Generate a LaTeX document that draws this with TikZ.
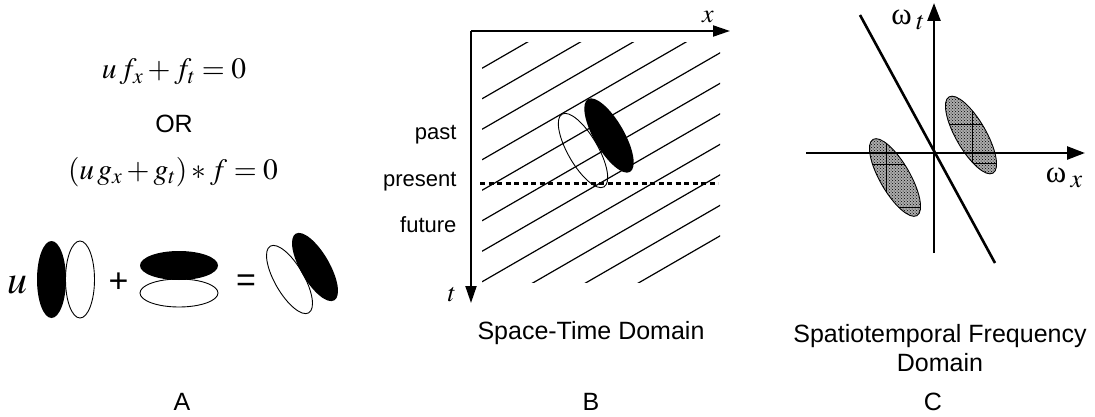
\documentclass[tikz,border=0pt]{standalone}
\usepackage{mathptmx}
\usepackage[no-math]{fontspec}
\setmainfont{Liberation Sans}
\newfontfamily\greekup{Liberation Serif}
\usetikzlibrary{arrows.meta,patterns}

\tikzset{
  axisB/.style={line width=2pt, -{Triangle[length=17pt,width=11pt]}},
  axisC/.style={line width=2.6pt, -{Triangle[length=18pt,width=13pt]}},
  hatch/.style={line width=1.2pt},
  blob/.style={line width=0.9pt},
  caption/.style={font=\fontsize{25}{29}\selectfont, align=center},
  timelabel/.style={font=\fontsize{22}{26}\selectfont, anchor=east},
  eqn/.style={font=\fontsize{29.5}{34}\selectfont},
  axlabel/.style={font=\fontsize{26}{30}\selectfont, inner sep=1pt},
  bigsym/.style={font=\fontsize{34}{38}\selectfont},
}

\begin{document}
\begin{tikzpicture}[x=1pt,y=1pt]
    \useasboundingbox (0,0) rectangle (1095,416);

    % Panel A: constraint equations
    \node[eqn] (eqFirst) at (174,344) {$u\,f_x + f_t = 0$};
    \node[caption] (orWord) at (174,292) {OR};
    \node[eqn] (eqSecond) at (173,244) {$(u\,g_x + g_t) \ast f = 0$};

    % Panel A: filter pairs
    \node[font=\fontsize{40}{44}\selectfont] (uFactor) at (17,131) {$u$};
    \fill[black] (51.5,136.5) ellipse (14.5 and 38.5);
    \draw[blob] (80,136.5) ellipse (14.5 and 38.5);
    \node[bigsym] (plusSign) at (118.5,133) {+};
    \fill[black] (179,150.5) ellipse (39 and 14.5);
    \draw[blob] (179,123) ellipse (39 and 14);
    \node[bigsym] (eqSign) at (246,133) {=};
    \draw[blob, shift={(289.5,136.5)}, rotate=30] (0,0) ellipse (14.5 and 38.5);
    \fill[black, shift={(315,149)}, rotate=30] (0,0) ellipse (14.5 and 38.5);

    % Panel B: space-time domain
    \coordinate (origB) at (471,385);
    \coordinate (xTip) at (730,385);
    \coordinate (tTip) at (471,113);
    \coordinate (nowL) at (480,233);
    \coordinate (nowR) at (718,233);

    \begin{scope}
        \clip (482,134) rectangle (720,373);
        \foreach \k in {0,...,10}
            \draw[hatch] (482,347.7-30.5*\k) -- ++(30:600);
    \end{scope}

    \draw[blob, shift={(583,265.5)}, rotate=30] (0,0) ellipse (15 and 42);
    \fill[black, shift={(609,280.5)}, rotate=30] (0,0) ellipse (15 and 42);

    \draw[line width=3pt, dash pattern=on 5pt off 3.5pt] (nowL) -- (nowR);
    \draw[axisB] (origB) -- (xTip);
    \draw[axisB] (origB) -- (tTip);

    \node[axlabel] (xLabel) at (708,399) {$x$};
    \node[axlabel] (tLabel) at (452,121) {$t$};
    \node[timelabel] (pastLabel) at (460,281) {past};
    \node[timelabel] (presentLabel) at (460,234) {present};
    \node[timelabel] (futureLabel) at (460,191) {future};

    % Panel C: frequency domain
    \coordinate (origC) at (934,263);
    \coordinate (wtTip) at (934,413);
    \coordinate (wtEnd) at (934,163);
    \coordinate (wxTip) at (1085,263);
    \coordinate (wxEnd) at (806,263);
    \coordinate (planeTop) at (860,401);
    \coordinate (planeBot) at (995,153);

    \foreach \cx/\cy in {971/281, 895/238.5}
        \fill[gray!65, shift={(\cx,\cy)}, rotate=30] (0,0) ellipse (15 and 44);
    \foreach \cx/\cy in {971/281, 895/238.5}
        \fill[pattern=crosshatch dots, pattern color=black, shift={(\cx,\cy)}, rotate=30] (0,0) ellipse (15 and 44);

    \begin{scope}
        \clip[shift={(971,281)}, rotate=30] (0,0) ellipse (15 and 44);
        \draw[blob] (972.7,200) -- (972.7,360);
        \draw[blob] (900,292) -- (1040,292);
        \draw[blob] (900,253) -- (1040,253);
    \end{scope}
    \begin{scope}
        \clip[shift={(895,238.5)}, rotate=30] (0,0) ellipse (15 and 44);
        \draw[blob] (886,150) -- (886,320);
        \draw[blob] (840,252) -- (960,252);
        \draw[blob] (840,209) -- (960,209);
    \end{scope}
    \foreach \cx/\cy in {971/281, 895/238.5}
        \draw[blob, shift={(\cx,\cy)}, rotate=30] (0,0) ellipse (15 and 44);

    \draw[line width=2.6pt] (planeTop) -- (planeBot);
    \draw[axisC] (wtEnd) -- (wtTip);
    \draw[axisC] (wxEnd) -- (wxTip);

    \node[axlabel] (wtLabel) at (908,396) {{\greekup\fontsize{31}{34}\selectfont ω}\,\raisebox{-5pt}{$t$}};
    \node[axlabel] (wxLabel) at (1064,238) {{\greekup\fontsize{31}{34}\selectfont ω}\,\raisebox{-5pt}{$x$}};

    % Captions
    \node[caption] (capB) at (591,83) {Space-Time Domain};
    \node[caption] (capC) at (940,68) {Spatiotemporal Frequency\\Domain};
    \node[caption] (tagA) at (182,14) {A};
    \node[caption] (tagB) at (591,14) {B};
    \node[caption] (tagC) at (933,14) {C};
\end{tikzpicture}
\end{document}
